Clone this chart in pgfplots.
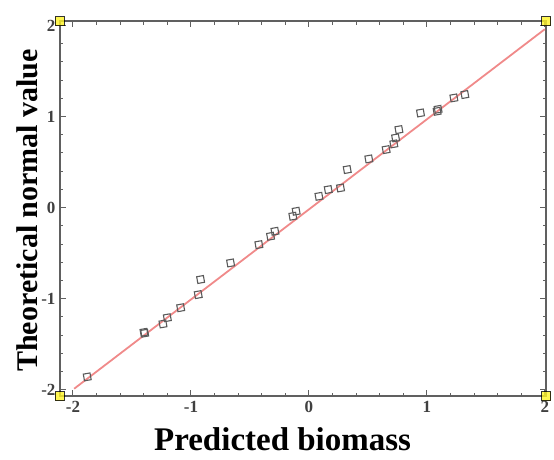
\documentclass[border=0pt]{standalone}
\usepackage{pgfplots}
\pgfplotsset{compat=1.18}
\usepackage{fontspec}
\setmainfont{Liberation Serif}
\definecolor{fitred}{HTML}{F08A8A}
\definecolor{markgray}{HTML}{5A5A5A}
\definecolor{axisgray}{HTML}{606060}

\begin{document}
\begin{tikzpicture}
  \begin{axis}[
    at={(0pt,0pt)},anchor=south west,
    scale only axis,width=486pt,height=375pt,
    xmin=-2.11,xmax=2.01,ymin=-2.07,ymax=2.05,
    xtick={-2,-1,0,1,2},ytick={-2,-1,0,1,2},
    minor x tick num=4,minor y tick num=4,
    tick align=inside,tick pos=both,
    xticklabel pos=bottom,yticklabel pos=left,
    major tick length=6pt,minor tick length=3.5pt,
    every tick/.style={axisgray,line width=1pt},
    axis line style={axisgray,line width=2pt},
    /pgf/number format/assume math mode=true,
    tick label style={font=\fontsize{17}{19}\selectfont\bfseries,text=black!75},
    xticklabel style={yshift=-2pt},
    yticklabel style={xshift=-1pt},
    clip=false]
    % fitted line
    \addplot[fitred,line width=1.8pt] coordinates {(-1.99,-1.99) (2.0,1.96)};
    % residual quantiles
    \addplot[only marks,mark=square,mark size=3.4pt,
      mark options={markgray,line width=1.1pt,rotate=10}]
      coordinates {
      (-1.879,-1.860) (-1.398,-1.370) (-1.392,-1.380) (-1.237,-1.278)
      (-1.200,-1.210) (-1.087,-1.100) (-0.938,-0.956) (-0.918,-0.790)
      (-0.664,-0.608) (-0.424,-0.407) (-0.325,-0.315) (-0.288,-0.260)
      (-0.136,-0.095) (-0.108,-0.040) (0.085,0.124) (0.164,0.198)
      (0.268,0.216) (0.325,0.418) (0.508,0.535) (0.655,0.637)
      (0.735,0.766) (0.763,0.857) (0.720,0.700) (0.946,1.040)
      (1.087,1.058) (1.095,1.080) (1.229,1.205) (1.322,1.242)};
    % yellow corner blobs of the scan
    \addplot[only marks,mark=square*,mark size=4.5pt,
      mark options={fill=yellow!85!white,draw=none,opacity=0.8}]
      coordinates {(-2.11,-2.07) (-2.11,2.05) (2.01,2.05) (2.01,-2.07)};
    \node[font=\fontsize{33}{36}\selectfont\bfseries,anchor=base]
      at ([yshift=-54pt]rel axis cs:0.458,0) {Predicted biomass};
    \node[font=\fontsize{30}{33}\selectfont\bfseries,rotate=90,anchor=center]
      at ([xshift=-33pt]rel axis cs:0,0.495) {Theoretical normal value};
  \end{axis}
  \pgfresetboundingbox
  \path[use as bounding box] (-60pt,-63pt) rectangle (494pt,396pt);
\end{tikzpicture}
\end{document}
